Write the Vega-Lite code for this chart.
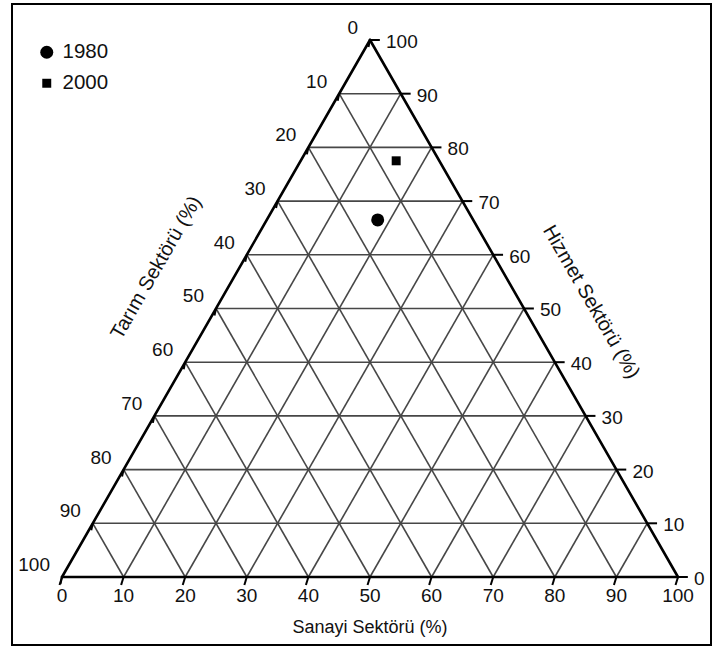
{
  "$schema": "https://vega.github.io/schema/vega-lite/v6.json",
  "width": 699,
  "height": 641,
  "autosize": {"type": "none"},
  "padding": {"left": 12, "top": 4, "right": 2, "bottom": 3},
  "background": "white",
  "config": {
    "view": {"stroke": "black", "strokeWidth": 2},
    "font": "Liberation Sans"
  },
  "datasets": {
    "kenarlar": [
      {"x": 0, "y": 0, "x2": 100, "y2": 0},
      {"x": 0, "y": 0, "x2": 50, "y2": 100},
      {"x": 100, "y": 0, "x2": 50, "y2": 100}
    ],
    "izgara": [
      {"x": 5, "y": 10, "x2": 95, "y2": 10},
      {"x": 10, "y": 20, "x2": 90, "y2": 20},
      {"x": 15, "y": 30, "x2": 85, "y2": 30},
      {"x": 20, "y": 40, "x2": 80, "y2": 40},
      {"x": 25, "y": 50, "x2": 75, "y2": 50},
      {"x": 30, "y": 60, "x2": 70, "y2": 60},
      {"x": 35, "y": 70, "x2": 65, "y2": 70},
      {"x": 40, "y": 80, "x2": 60, "y2": 80},
      {"x": 45, "y": 90, "x2": 55, "y2": 90},
      {"x": 10, "y": 0, "x2": 55, "y2": 90},
      {"x": 20, "y": 0, "x2": 60, "y2": 80},
      {"x": 30, "y": 0, "x2": 65, "y2": 70},
      {"x": 40, "y": 0, "x2": 70, "y2": 60},
      {"x": 50, "y": 0, "x2": 75, "y2": 50},
      {"x": 60, "y": 0, "x2": 80, "y2": 40},
      {"x": 70, "y": 0, "x2": 85, "y2": 30},
      {"x": 80, "y": 0, "x2": 90, "y2": 20},
      {"x": 90, "y": 0, "x2": 95, "y2": 10},
      {"x": 10, "y": 0, "x2": 5, "y2": 10},
      {"x": 20, "y": 0, "x2": 10, "y2": 20},
      {"x": 30, "y": 0, "x2": 15, "y2": 30},
      {"x": 40, "y": 0, "x2": 20, "y2": 40},
      {"x": 50, "y": 0, "x2": 25, "y2": 50},
      {"x": 60, "y": 0, "x2": 30, "y2": 60},
      {"x": 70, "y": 0, "x2": 35, "y2": 70},
      {"x": 80, "y": 0, "x2": 40, "y2": 80},
      {"x": 90, "y": 0, "x2": 45, "y2": 90}
    ],
    "eksenler": [
      {"eksen": "sanayi", "deger": "0", "x": 0, "y": 0, "x2": -0.4, "y2": -1.5},
      {"eksen": "sanayi", "deger": "10", "x": 10, "y": 0, "x2": 9.6, "y2": -1.5},
      {"eksen": "sanayi", "deger": "20", "x": 20, "y": 0, "x2": 19.6, "y2": -1.5},
      {"eksen": "sanayi", "deger": "30", "x": 30, "y": 0, "x2": 29.6, "y2": -1.5},
      {"eksen": "sanayi", "deger": "40", "x": 40, "y": 0, "x2": 39.6, "y2": -1.5},
      {"eksen": "sanayi", "deger": "50", "x": 50, "y": 0, "x2": 49.6, "y2": -1.5},
      {"eksen": "sanayi", "deger": "60", "x": 60, "y": 0, "x2": 59.6, "y2": -1.5},
      {"eksen": "sanayi", "deger": "70", "x": 70, "y": 0, "x2": 69.6, "y2": -1.5},
      {"eksen": "sanayi", "deger": "80", "x": 80, "y": 0, "x2": 79.6, "y2": -1.5},
      {"eksen": "sanayi", "deger": "90", "x": 90, "y": 0, "x2": 89.6, "y2": -1.5},
      {"eksen": "sanayi", "deger": "100", "x": 100, "y": 0, "x2": 99.6, "y2": -1.5},
      {"eksen": "hizmet", "deger": "0", "x": 100, "y": 0, "x2": 101.6, "y2": 0},
      {"eksen": "hizmet", "deger": "10", "x": 95, "y": 10, "x2": 96.6, "y2": 10},
      {"eksen": "hizmet", "deger": "20", "x": 90, "y": 20, "x2": 91.6, "y2": 20},
      {"eksen": "hizmet", "deger": "30", "x": 85, "y": 30, "x2": 86.6, "y2": 30},
      {"eksen": "hizmet", "deger": "40", "x": 80, "y": 40, "x2": 81.6, "y2": 40},
      {"eksen": "hizmet", "deger": "50", "x": 75, "y": 50, "x2": 76.6, "y2": 50},
      {"eksen": "hizmet", "deger": "60", "x": 70, "y": 60, "x2": 71.6, "y2": 60},
      {"eksen": "hizmet", "deger": "70", "x": 65, "y": 70, "x2": 66.6, "y2": 70},
      {"eksen": "hizmet", "deger": "80", "x": 60, "y": 80, "x2": 61.6, "y2": 80},
      {"eksen": "hizmet", "deger": "90", "x": 55, "y": 90, "x2": 56.6, "y2": 90},
      {"eksen": "hizmet", "deger": "100", "x": 50, "y": 100, "x2": 51.6, "y2": 100},
      {"eksen": "tarim", "deger": "0", "x": 50, "y": 100, "x2": 49.75, "y2": 98.7},
      {"eksen": "tarim", "deger": "10", "x": 45, "y": 90, "x2": 44.75, "y2": 88.7},
      {"eksen": "tarim", "deger": "20", "x": 40, "y": 80, "x2": 39.75, "y2": 78.7},
      {"eksen": "tarim", "deger": "30", "x": 35, "y": 70, "x2": 34.75, "y2": 68.7},
      {"eksen": "tarim", "deger": "40", "x": 30, "y": 60, "x2": 29.75, "y2": 58.7},
      {"eksen": "tarim", "deger": "50", "x": 25, "y": 50, "x2": 24.75, "y2": 48.7},
      {"eksen": "tarim", "deger": "60", "x": 20, "y": 40, "x2": 19.75, "y2": 38.7},
      {"eksen": "tarim", "deger": "70", "x": 15, "y": 30, "x2": 14.75, "y2": 28.7},
      {"eksen": "tarim", "deger": "80", "x": 10, "y": 20, "x2": 9.75, "y2": 18.7},
      {"eksen": "tarim", "deger": "90", "x": 5, "y": 10, "x2": 4.75, "y2": 8.7},
      {"eksen": "tarim", "deger": "100", "x": 0, "y": 0, "x2": -0.25, "y2": -1.3}
    ],
    "yillar": [
      {"yil": "1980", "tarim": 15.5, "sanayi": 18, "hizmet": 66.5, "x": 51.25, "y": 66.5},
      {"yil": "2000", "tarim": 7, "sanayi": 15.5, "hizmet": 77.5, "x": 54.25, "y": 77.5}
    ]
  },
  "encoding": {
    "x": {"field": "x", "type": "quantitative", "scale": {"domain": [-8.117, 105.357], "nice": false, "zero": false}, "axis": null},
    "y": {"field": "y", "type": "quantitative", "scale": {"domain": [-12.663, 106.7], "nice": false, "zero": false}, "axis": null}
  },
  "layer": [
    {
      "data": {"name": "izgara"},
      "mark": {"type": "rule", "color": "#474747", "strokeWidth": 1.6},
      "encoding": {"x2": {"field": "x2"}, "y2": {"field": "y2"}}
    },
    {
      "data": {"name": "eksenler"},
      "mark": {"type": "rule", "color": "black", "strokeWidth": 2},
      "encoding": {"x2": {"field": "x2"}, "y2": {"field": "y2"}}
    },
    {
      "data": {"name": "kenarlar"},
      "mark": {"type": "rule", "color": "black", "strokeWidth": 2.6, "strokeCap": "round"},
      "encoding": {"x2": {"field": "x2"}, "y2": {"field": "y2"}}
    },
    {
      "data": {"name": "eksenler"},
      "transform": [{"filter": "datum.eksen === 'sanayi'"}],
      "mark": {"type": "text", "fontSize": 19, "color": "#111", "align": "center", "baseline": "middle", "dy": 19},
      "encoding": {"text": {"field": "deger", "type": "nominal"}}
    },
    {
      "data": {"name": "eksenler"},
      "transform": [{"filter": "datum.eksen === 'hizmet'"}],
      "mark": {"type": "text", "fontSize": 19, "color": "#111", "align": "left", "baseline": "middle", "dx": 16, "dy": 2},
      "encoding": {"text": {"field": "deger", "type": "nominal"}}
    },
    {
      "data": {"name": "eksenler"},
      "transform": [{"filter": "datum.eksen === 'tarim'"}],
      "mark": {"type": "text", "fontSize": 19, "color": "#111", "align": "right", "baseline": "middle", "dx": -12, "dy": -12},
      "encoding": {"text": {"field": "deger", "type": "nominal"}}
    },
    {
      "data": {"values": [{"baslik": "Sanayi Sektörü (%)", "x": 50, "y": 0}]},
      "mark": {"type": "text", "fontSize": 18, "color": "#111", "align": "center", "baseline": "middle", "dy": 51},
      "encoding": {"text": {"field": "baslik", "type": "nominal"}}
    },
    {
      "data": {"values": [{"baslik": "Tarım Sektörü (%)", "x": 15.3, "y": 57.6}]},
      "mark": {"type": "text", "fontSize": 20, "color": "#111", "align": "center", "baseline": "middle", "angle": -60},
      "encoding": {"text": {"field": "baslik", "type": "nominal"}}
    },
    {
      "data": {"values": [{"baslik": "Hizmet Sektörü (%)", "x": 85.9, "y": 51.2}]},
      "mark": {"type": "text", "fontSize": 20, "color": "#111", "align": "center", "baseline": "middle", "angle": 60},
      "encoding": {"text": {"field": "baslik", "type": "nominal"}}
    },
    {
      "data": {"name": "yillar"},
      "mark": {"type": "point", "filled": true, "color": "black", "opacity": 1, "size": 169},
      "encoding": {
        "shape": {
          "field": "yil",
          "type": "nominal",
          "scale": {"domain": ["1980", "2000"], "range": ["circle", "M-0.69,-0.69H0.69V0.69H-0.69Z"]},
          "legend": {
            "orient": "none",
            "legendX": 24.5,
            "legendY": 38,
            "title": null,
            "padding": 0,
            "labelFontSize": 20.5,
            "labelFont": "Liberation Sans",
            "labelColor": "#111",
            "labelOffset": 5.5,
            "rowPadding": 10,
            "symbolSize": 169,
            "symbolFillColor": "black",
            "symbolStrokeWidth": 0,
            "symbolOpacity": 1
          }
        }
      }
    }
  ]
}
